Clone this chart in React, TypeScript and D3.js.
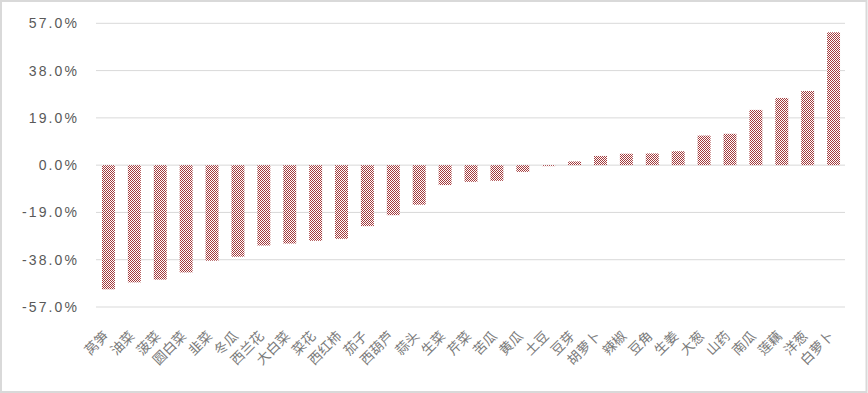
import React from "react";
import * as d3 from "d3";

const categories = ["莴笋","油菜","菠菜","圆白菜","韭菜","冬瓜","西兰花","大白菜","菜花","西红柿","茄子","西葫芦","蒜头","生菜","芹菜","苦瓜","黄瓜","土豆","豆芽","胡萝卜","辣椒","豆角","生姜","大葱","山药","南瓜","莲藕","洋葱","白萝卜"];
const values = [-49.9,-47.1,-46.0,-43.1,-38.4,-36.8,-32.3,-31.5,-30.4,-29.6,-24.5,-20.1,-15.9,-8.0,-6.7,-6.3,-2.7,-0.4,1.5,3.7,4.6,4.7,5.6,11.9,12.6,22.2,27.0,29.8,53.4];
const yTicks = [-57,-38,-19,0,19,38,57];

const W = 868, H = 393;

export default function App() {
  const x = d3.scaleBand<string>().domain(categories).range([95.5, 846.5]).paddingInner(0.5).paddingOuter(0.25);
  const y = d3.scaleLinear().domain([-57, 57]).range([307, 23.3]);
  const gridColor = "#d9d9d9";
  return (
    <svg width={W} height={H} style={{ position: "absolute", left: 0, top: 0 }}>
      <defs>
        <pattern id="chk" width={2} height={2} patternUnits="userSpaceOnUse">
          <rect x={0} y={0} width={2} height={2} fill="#ffffff" />
          <rect x={0} y={0} width={1} height={1} fill="#a33a3c" />
          <rect x={1} y={1} width={1} height={1} fill="#a33a3c" />
        </pattern>
      </defs>
      <rect x={0} y={0} width={W} height={H} fill="#ffffff" />
      <rect x={1} y={1} width={W - 2.5} height={H - 2} fill="none" stroke="#d9d9d9" strokeWidth={2} />
      {yTicks.map((t) => (
        <g key={t}>
          <line x1={96} x2={845} y1={y(t)} y2={y(t)} stroke={gridColor} strokeWidth={1} />
          <text x={79} y={y(t) + 5} textAnchor="end" fontFamily="Liberation Sans, Arial, sans-serif" fontSize={14} letterSpacing={2.1} fill="#595959">
            {t.toFixed(1) + "%"}
          </text>
        </g>
      ))}
      {categories.map((c, i) => {
        const v = values[i];
        const y0 = y(0), y1 = y(v);
        return (
          <rect key={c} x={x(c)!} width={x.bandwidth()} y={Math.min(y0, y1)} height={Math.max(Math.abs(y1 - y0), 0.8)} fill="url(#chk)" />
        );
      })}
      {categories.map((c) => {
        const cx = x(c)! + x.bandwidth() / 2;
        return (
          <text key={c} transform={`translate(${cx + 1},337) rotate(-45)`} textAnchor="end" fontFamily="Noto Sans CJK SC" fontSize={13.5} fill="#7a7a7a">
            {c}
          </text>
        );
      })}
    </svg>
  );
}
